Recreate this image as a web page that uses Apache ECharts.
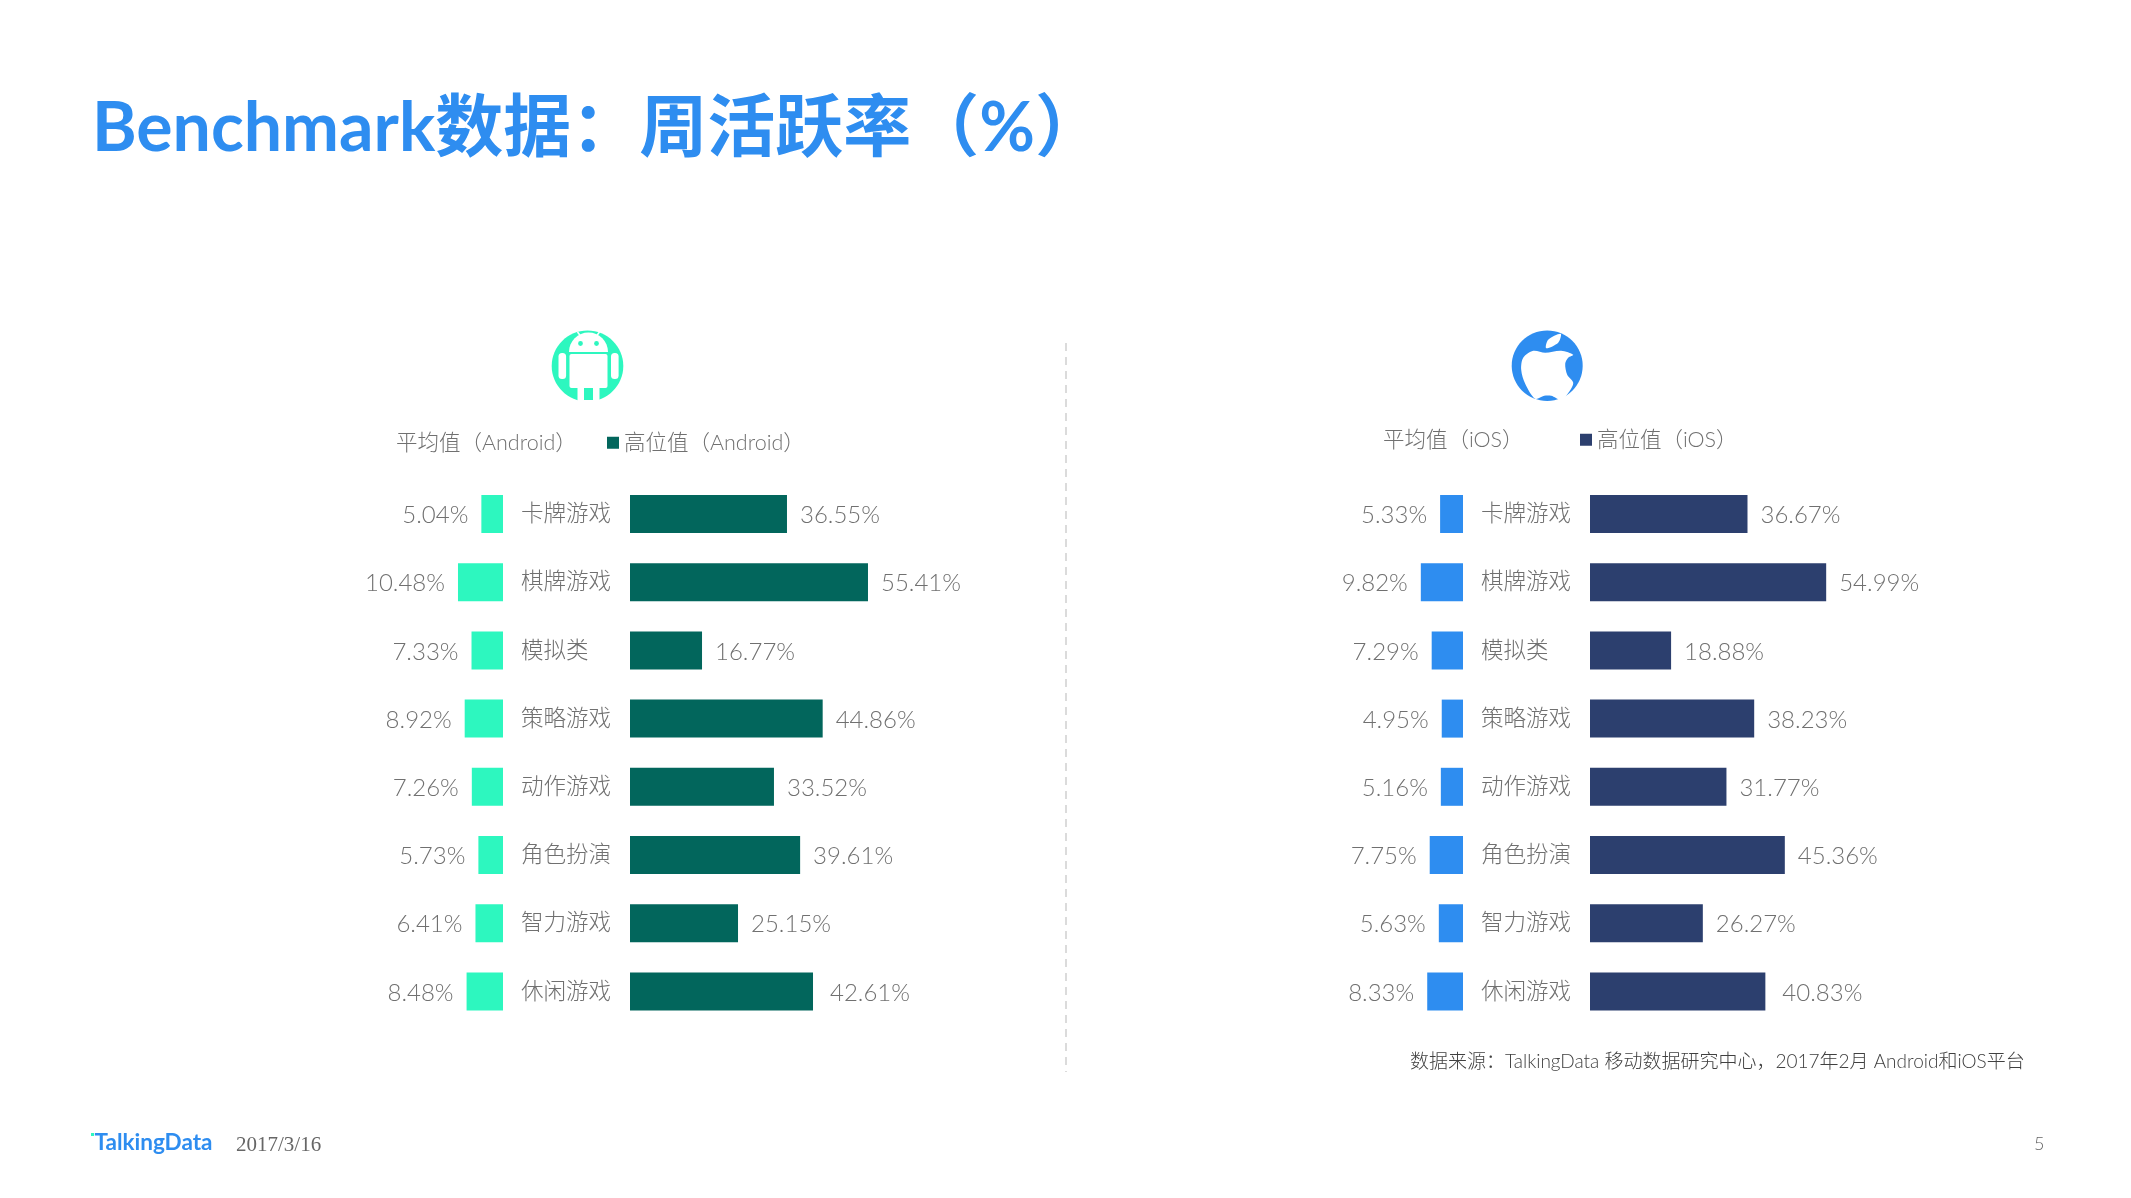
<!DOCTYPE html>
<html>
<head>
<meta charset="utf-8">
<title>Benchmark</title>
<style>
  html, body { margin: 0; padding: 0; background: #fff; }
  #main { width: 2131px; height: 1198px; }
</style>
<script src="https://cdn.jsdelivr.net/npm/echarts@6/dist/echarts.min.js"></script>
</head>
<body>
<div id="main"></div>
<script>
// 数据
var categories = ['卡牌游戏', '棋牌游戏', '模拟类', '策略游戏', '动作游戏', '角色扮演', '智力游戏', '休闲游戏']
var androidAvg = [5.04, 10.48, 7.33, 8.92, 7.26, 5.73, 6.41, 8.48]
var androidHigh = [36.55, 55.41, 16.77, 44.86, 33.52, 39.61, 25.15, 42.61]
var iosAvg = [5.33, 9.82, 7.29, 4.95, 5.16, 7.75, 5.63, 8.33]
var iosHigh = [36.67, 54.99, 18.88, 38.23, 31.77, 45.36, 26.27, 40.83]

var FONT = "Lato, 'Noto Sans CJK SC', sans-serif"
var GRAY = '#707070'
var GREEN = '#2df7bf', TEAL = '#02665c', BLUE = '#2e8df0', NAVY = '#2c3f6e'
var PX_PER_PCT = 4.295
var GRID_TOP = 479.9, GRID_H = 545.6

var grids = [], xAxes = [], yAxes = [], series = []

// 一组柱子：一个 grid + 一对坐标轴
function addBars(name, data, color, edge, max, toLeft, showCats) {
  var i = grids.length
  var w = max * PX_PER_PCT
  grids.push({ left: toLeft ? edge - w : edge, top: GRID_TOP, width: w, height: GRID_H })
  xAxes.push({ gridIndex: i, type: 'value', min: 0, max: max, inverse: toLeft, show: false })
  yAxes.push({
    gridIndex: i,
    type: 'category',
    inverse: true,
    data: categories,
    axisLine: { show: false },
    axisTick: { show: false },
    axisLabel: {
      show: showCats,
      align: 'left',
      margin: 109,
      color: GRAY,
      fontFamily: FONT,
      fontWeight: 300,
      fontSize: 22.5,
      padding: [0, 0, 3, 0]
    }
  })
  series.push({
    name: name,
    type: 'bar',
    xAxisIndex: i,
    yAxisIndex: i,
    data: data,
    barWidth: 38,
    itemStyle: { color: color },
    label: {
      show: true,
      position: toLeft ? 'left' : 'right',
      distance: 13,
      formatter: '{c}%',
      color: GRAY,
      fontFamily: FONT,
      fontWeight: 300,
      fontSize: 24
    },
    // 最后一行的标签离柱子稍远
    labelLayout: function (params) {
      return { dx: !toLeft && params.dataIndex === 7 ? 4 : 0, dy: 1.5 }
    }
  })
}

addBars('平均值（Android）', androidAvg, GREEN, 503, 20, true, false)
addBars('高位值（Android）', androidHigh, TEAL, 630, 60, false, true)
addBars('平均值（iOS）', iosAvg, BLUE, 1463, 20, true, false)
addBars('高位值（iOS）', iosHigh, NAVY, 1590, 60, false, true)

function legendAt(name, left, top, hideIcon) {
  return {
    data: [hideIcon ? { name: name, itemStyle: { opacity: 0 } } : name],
    left: left,
    top: top,
    itemWidth: hideIcon ? 0 : 12,
    itemHeight: 12,
    itemGap: 0,
    padding: 0,
    selectedMode: false,
    icon: 'rect',
    textStyle: { color: GRAY, fontFamily: FONT, fontWeight: 300, fontSize: 21.5 }
  }
}

// 机器人和苹果图标
function androidIcon() {
  var white = { fill: '#fff' }
  return {
    type: 'group',
    x: 587.5,
    y: 366,
    children: [
      { type: 'ellipse', shape: { cx: 0, cy: 0, rx: 35.8, ry: 35.5 }, style: { fill: GREEN } },
      { type: 'sector', shape: { cx: 1, cy: -14, r: 19.5, r0: 0, startAngle: Math.PI, endAngle: 2 * Math.PI }, style: white },
      { type: 'line', shape: { x1: -10, y1: -34, x2: -7, y2: -30 }, style: { stroke: '#fff', lineWidth: 1.5 } },
      { type: 'line', shape: { x1: 12, y1: -34, x2: 9, y2: -30 }, style: { stroke: '#fff', lineWidth: 1.5 } },
      { type: 'circle', shape: { cx: -7, cy: -22.5, r: 2.4 }, style: { fill: GREEN } },
      { type: 'circle', shape: { cx: 9, cy: -22.5, r: 2.4 }, style: { fill: GREEN } },
      { type: 'rect', shape: { x: -18, y: -12, width: 38, height: 34, r: 2 }, style: white },
      { type: 'rect', shape: { x: -29, y: -13, width: 7.6, height: 26, r: 3.5 }, style: white },
      { type: 'rect', shape: { x: 23.5, y: -13, width: 7.6, height: 26, r: 3.5 }, style: white },
      { type: 'rect', shape: { x: -10, y: 20, width: 22, height: 17 }, style: white },
      { type: 'rect', shape: { x: -3.5, y: 22, width: 9, height: 12 }, style: { fill: GREEN } }
    ]
  }
}

function appleIcon() {
  return {
    type: 'group',
    x: 1547.2,
    y: 365.8,
    children: [
      { type: 'ellipse', shape: { cx: 0, cy: 0, rx: 35.5, ry: 35.2 }, style: { fill: BLUE } },
      { type: 'polygon', shape: { points: [[-1, -17.5], [1, -26], [13.5, -32], [11, -23]], smooth: 0.3 }, style: { fill: '#fff' } },
      {
        type: 'polygon',
        shape: {
          points: [[-2, -13], [-14, -15], [-24, -8], [-26, 4], [-22, 18], [-12, 33], [-3, 30], [4, 30], [14, 34], [22, 26], [26, 17], [20, 9], [18, -2], [21, -8], [26, -11], [14, -15]],
          smooth: 0.3
        },
        style: { fill: '#fff' }
      }
    ]
  }
}

var option = {
  animation: false,
  backgroundColor: '#fff',
  title: {
    text: 'Benchmark数据：周活跃率（%）',
    left: 92,
    top: 95,
    padding: 0,
    textStyle: { color: BLUE, fontFamily: FONT, fontWeight: 'bold', fontSize: 68 }
  },
  legend: [
    legendAt('平均值（Android）', 391, 432, true),
    legendAt('高位值（Android）', 607, 432, false),
    legendAt('平均值（iOS）', 1378, 429, true),
    legendAt('高位值（iOS）', 1580, 429, false)
  ],
  grid: grids,
  xAxis: xAxes,
  yAxis: yAxes,
  series: series,
  graphic: [
    androidIcon(),
    appleIcon(),
    {
      type: 'line',
      shape: { x1: 1066, y1: 343, x2: 1066, y2: 1072 },
      style: { stroke: '#cfcfcf', lineWidth: 1.5, lineDash: [8, 6] }
    },
    {
      type: 'text', x: 1410, y: 1062,
      style: { text: '数据来源：TalkingData 移动数据研究中心，2017年2月 Android和iOS平台', fill: '#404040', font: "300 19px " + FONT, textVerticalAlign: 'middle' }
    },
    {
      type: 'text', x: 94.5, y: 1143,
      style: { text: 'TalkingData', fill: BLUE, font: "bold 22.5px " + FONT, textVerticalAlign: 'middle' }
    },
    { type: 'rect', shape: { x: 91, y: 1133, width: 3, height: 3 }, style: { fill: GREEN } },
    {
      type: 'text', x: 236, y: 1145,
      style: { text: '2017/3/16', fill: '#666', font: "21px 'Liberation Serif', serif", textVerticalAlign: 'middle' }
    },
    {
      type: 'text', x: 2034, y: 1144,
      style: { text: '5', fill: '#666', font: "300 18px " + FONT, textVerticalAlign: 'middle' }
    }
  ]
}

var myChart = echarts.init(document.getElementById('main'))
myChart.setOption(option)
</script>
</body>
</html>
